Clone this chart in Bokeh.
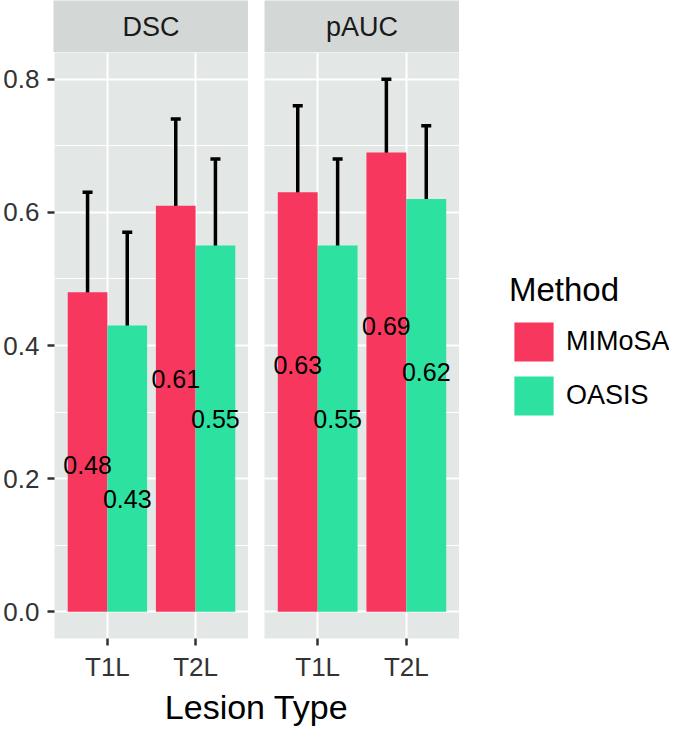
from bokeh.plotting import figure
from bokeh.models import (ColumnDataSource, Range1d, FixedTicker, Whisker, TeeHead,
                          Legend, LegendItem, Label, Grid, PrintfTickFormatter)
from bokeh.layouts import column, row
from bokeh.embed import file_html
from bokeh.resources import INLINE
from bokeh.core.properties import value

# ---------------- data ----------------
metrics = ["DSC", "pAUC"]
lesion_types = ["T1L", "T2L"]
methods = ["MIMoSA", "OASIS"]

dsc_mimosa = [0.48, 0.61]
dsc_oasis = [0.43, 0.55]
pauc_mimosa = [0.63, 0.69]
pauc_oasis = [0.55, 0.62]

dsc_mimosa_err = [0.15, 0.13]
dsc_oasis_err = [0.14, 0.13]
pauc_mimosa_err = [0.13, 0.11]
pauc_oasis_err = [0.13, 0.11]

y_ticks = [0.0, 0.2, 0.4, 0.6, 0.8]
y_minor = [0.1, 0.3, 0.5, 0.7]

# ---------------- style ----------------
FONT = "Liberation Sans"
COLORS = {"MIMoSA": "#F8375F", "OASIS": "#2DE1A0"}
PANEL_BG = "#E3E7E6"
STRIP_BG = "#D3D8D7"
TICK_COLOR = "#333333"
LABEL_DROP = 0.26
DODGE = {"MIMoSA": -0.225, "OASIS": 0.225}
BAR_W = 0.45

AX_LEFT = 53
GAP = 16
FRAME_W = 195
LEG_W = 669 - (AX_LEFT + FRAME_W + GAP + FRAME_W)
STRIP_H = 52
FRAME_H = 588
AX_BOTTOM = 44
TITLE_H = 44
W1 = AX_LEFT + FRAME_W
W2 = GAP + FRAME_W
TOTAL_W = W1 + W2 + LEG_W
PANEL_H = FRAME_H + AX_BOTTOM

panel_data = {
    "DSC": {"MIMoSA": (dsc_mimosa, dsc_mimosa_err), "OASIS": (dsc_oasis, dsc_oasis_err)},
    "pAUC": {"MIMoSA": (pauc_mimosa, pauc_mimosa_err), "OASIS": (pauc_oasis, pauc_oasis_err)},
}


def blank_fig(width, height, **kw):
    f = figure(width=width, height=height, x_range=Range1d(0, 1), y_range=Range1d(0, 1),
               toolbar_location=None, x_axis_location=None, y_axis_location=None,
               output_backend="svg", title=None, min_border=0, **kw)
    f.grid.visible = False
    f.outline_line_color = None
    f.border_fill_color = "white"
    f.background_fill_color = "white"
    return f


def style_axis(ax):
    ax.axis_line_color = None
    ax.major_tick_line_color = TICK_COLOR
    ax.major_tick_line_width = 2.5
    ax.major_tick_out = 7
    ax.major_tick_in = 0
    ax.minor_tick_line_color = None
    ax.major_label_text_font = FONT
    ax.major_label_text_font_size = "26px"
    ax.major_label_text_color = TICK_COLOR


def make_strip(text, width, left):
    s = blank_fig(width, STRIP_H, min_border_left=left)
    s.background_fill_color = STRIP_BG
    s.add_layout(Label(x=0.5, y=0.5, text=text, text_align="center", text_baseline="middle",
                       text_font=FONT, text_font_size="27px", text_color="#1A1A1A"))
    return s


def make_panel(metric, first):
    kw = dict(width=W1 if first else W2, height=PANEL_H,
              x_range=Range1d(0.4, 2.6), y_range=Range1d(-0.04, 0.84),
              toolbar_location=None, output_backend="svg", title=None, min_border=0,
              min_border_bottom=AX_BOTTOM, min_border_right=0)
    if first:
        kw.update(min_border_left=AX_LEFT)
    else:
        kw.update(min_border_left=GAP, y_axis_location=None)
    p = figure(**kw)
    p.background_fill_color = PANEL_BG
    p.border_fill_color = "white"
    p.outline_line_color = None

    yt = FixedTicker(ticks=y_ticks, minor_ticks=y_minor)
    if first:
        p.yaxis.ticker = yt
        p.yaxis.formatter = PrintfTickFormatter(format="%.1f")
        p.yaxis.major_label_standoff = 8
        style_axis(p.yaxis[0])
        p.ygrid.ticker = yt
    else:
        p.ygrid.visible = False
        p.add_layout(Grid(dimension=1, ticker=yt))
    p.xaxis.ticker = FixedTicker(ticks=[1, 2])
    p.xaxis.major_label_overrides = {i + 1: t for i, t in enumerate(lesion_types)}
    p.xaxis.major_label_standoff = 6
    style_axis(p.xaxis[0])

    for g in p.xgrid + p.ygrid:
        g.grid_line_color = "white"
        g.grid_line_width = 2
    for g in p.ygrid:
        g.minor_grid_line_color = "white"
        g.minor_grid_line_width = 1

    sources = []
    for m in methods:
        vals, errs = panel_data[metric][m]
        xs = [lesion_types.index(t) + 1 + DODGE[m] for t in lesion_types]
        src = ColumnDataSource(dict(
            x=xs, top=vals,
            lower=[v - e for v, e in zip(vals, errs)],
            upper=[v + e for v, e in zip(vals, errs)],
            ly=[v - LABEL_DROP for v in vals],
            label=[f"{v:.2f}" for v in vals],
        ))
        sources.append(src)
        p.vbar(x="x", top="top", bottom=0, width=BAR_W, source=src,
               fill_color=COLORS[m], line_color=None)
    for src in sources:
        p.text(x="x", y="ly", text="label", source=src, text_font=value(FONT),
               text_font_size="25px", text_align="center", text_baseline="middle",
               text_color="black")
    for src in sources:
        w = Whisker(source=src, base="x", upper="upper", lower="lower",
                    line_color="black", line_width=3.5,
                    upper_head=TeeHead(size=10, line_color="black", line_width=3.5),
                    lower_head=TeeHead(size=10, line_color="black", line_width=3.5))
        p.add_layout(w)
    return p


p1 = make_panel("DSC", True)
p2 = make_panel("pAUC", False)

# legend lives in its own figure to the right of the panels
lf = blank_fig(LEG_W, PANEL_H)
items = []
for m in methods:
    r = lf.vbar(x=[0.5], top=[0.0], bottom=[0.0], width=0.5, fill_color=COLORS[m], line_color=None)
    items.append(LegendItem(label=m, renderers=[r]))
legend = Legend(items=items, title="Method", location=(50, 218), orientation="vertical")
legend.title_text_font = FONT
legend.title_text_font_size = "33px"
legend.title_text_font_style = "normal"
legend.title_text_color = "black"
legend.title_standoff = 8
legend.label_text_font = FONT
legend.label_text_font_size = "27px"
legend.label_text_color = "black"
legend.glyph_width = 49
legend.glyph_height = 49
legend.spacing = 5
legend.label_standoff = 8
legend.padding = 0
legend.margin = 0
legend.border_line_color = None
legend.background_fill_alpha = 0
lf.add_layout(legend)

s1 = make_strip("DSC", W1, AX_LEFT)
s2 = make_strip("pAUC", W2, GAP)

t = blank_fig(TOTAL_W, TITLE_H)
t.x_range = Range1d(0, TOTAL_W)
center_x = (AX_LEFT + W1 + GAP + FRAME_W) / 2
t.add_layout(Label(x=center_x, y=0.5, text="Lesion Type",
                   text_align="center", text_baseline="middle",
                   text_font=FONT, text_font_size="34px", text_color="black"))

layout = column(row(s1, s2), row(p1, p2, lf), t)

with open("out.html", "w") as f:
    f.write(file_html(layout, INLINE))
